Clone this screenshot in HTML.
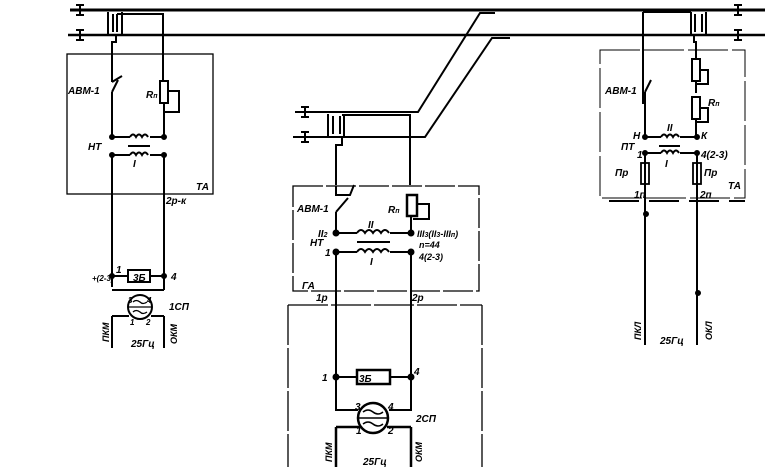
<!DOCTYPE html>
<html><head><meta charset="utf-8"><style>
body{margin:0;background:#fff;width:765px;height:471px;overflow:hidden}
svg text{font-family:"Liberation Sans",sans-serif;font-style:italic;font-weight:bold;fill:#000}
</style></head><body>
<svg width="765" height="471" viewBox="0 0 765 471" xmlns="http://www.w3.org/2000/svg" fill="none" stroke="#000" stroke-width="2">
<!-- main rails -->
<line x1="70" y1="10" x2="765" y2="10" stroke-width="3"/>
<line x1="68" y1="35" x2="765" y2="35" stroke-width="2.5"/>
<path d="M80 4v12M76 5h8M76 15h8M80 29v12M76 30h8M76 40h8" stroke-width="2"/>
<path d="M738 4v12M734 5h8M734 15h8M738 29v12M734 30h8M734 40h8" stroke-width="2"/>
<!-- left transformer -->
<path d="M108 12v22M113 14v18M117 14v18M122 12v22" stroke-width="2"/>
<path d="M117 14h46v67" />
<path d="M116 34v8h-4v40"/>
<!-- left box -->
<rect x="67" y="54" width="146" height="140" stroke-width="1.3"/>
<path d="M112 82l10-6M112 92l6-12M112 92v45M112 155v132M112 290h52M164 155v135"/>
<rect x="160" y="81" width="8" height="22" stroke-width="2"/>
<path d="M164 103v34M168 91h11v21h-15"/>
<path d="M112 137h18M150 137h14M112 155h18M150 155h14" />
<path d="M130 137q3-5 6 0q3-5 6 0q3-5 6 0M130 155q3-5 6 0q3-5 6 0q3-5 6 0"/>
<line x1="128" y1="146" x2="150" y2="146" stroke-width="2"/>
<circle cx="112" cy="137" r="2" fill="#000"/><circle cx="164" cy="137" r="2" fill="#000"/><circle cx="112" cy="155" r="2" fill="#000"/><circle cx="164" cy="155" r="2" fill="#000"/>
<rect x="128" y="270" width="22" height="12" stroke-width="2"/>
<path d="M112 276h16M150 276h14"/>
<circle cx="112" cy="276" r="2" fill="#000"/><circle cx="164" cy="276" r="2" fill="#000"/>
<circle cx="140" cy="307" r="12"/>
<path d="M129 307h22M133 302q3-3 7 0q3 3 7 0M133 312q3-3 7 0q3 3 7 0" stroke-width="1.3"/>
<path d="M112 316h17M151 316h13M112 316v32M164 316v32"/>
<!-- middle diagonals -->
<path d="M295 112h123l62-99h15M293 137h132l67-99h18"/>
<path d="M305 106v12M301 107h8M301 117h8M305 131v12M301 132h8M301 142h8" stroke-width="2"/>
<path d="M328 114v22M333 116v18M340 116v18M344 114v22"/>
<path d="M342 115h68v70M342 137v8h-6v40"/>
<!-- middle box -->
<rect x="293" y="186" width="186" height="105" stroke-width="1.3" stroke-dasharray="30 3"/>
<path d="M336 186v9h14l4-10M336 212l12-14M336 212v21M336 252v125M411 215v18M411 252v125M336 377h21M390 377h21M336 377v33h22M411 377v33h-22"/>
<rect x="407" y="195" width="10" height="21" stroke-width="2.5"/>
<path d="M417 204h12v15h-16"/>
<path d="M336 233h21M390 233h21M336 252h21M390 252h21M357 233q4-6 8 0q4-6 8 0q4-6 8 0q4-6 8 0M357 252q4-6 8 0q4-6 8 0q4-6 8 0q4-6 8 0"/>
<line x1="357" y1="242" x2="390" y2="242" stroke-width="2"/>
<circle cx="336" cy="233" r="2.5" fill="#000"/><circle cx="411" cy="233" r="2.5" fill="#000"/><circle cx="336" cy="252" r="2.5" fill="#000"/><circle cx="411" cy="252" r="2.5" fill="#000"/>
<circle cx="336" cy="377" r="2.5" fill="#000"/><circle cx="411" cy="377" r="2.5" fill="#000"/>
<rect x="357" y="370" width="33" height="14" stroke-width="2.5"/>
<circle cx="373" cy="418" r="15" stroke-width="2.5"/>
<path d="M358 418h30M363 412q5-4 10 0q5 4 10 0M363 424q5-4 10 0q5 4 10 0" stroke-width="1.5"/>
<path d="M336 427v40M411 427v40M336 427h24M411 427h-24" stroke-width="2.5"/>
<path d="M288 305h194M288 305v162M482 305v162" stroke-width="1.3" stroke-dasharray="40 3"/>
<!-- right -->
<path d="M643 12v92M643 12h48"/>
<path d="M691 12v22M695 14v18M702 14v18M706 12v22"/>
<path d="M694 34v8h2v17"/>
<path d="M600 50h145v148H600z" stroke-width="1" stroke-dasharray="40 4"/>
<path d="M645 92l6-12M645 92v45M696 81v12M696 118v19M645 153v140M697 153v140M645 137h16M680 137h17M645 153h16M680 153h17"/>
<rect x="692" y="59" width="8" height="22" stroke-width="2"/><rect x="692" y="97" width="8" height="22" stroke-width="2"/>
<path d="M700 70h8v14h-12M700 108h8v14h-12"/>
<path d="M661 137q3-5 6 0q3-5 6 0q3-5 6 0M661 153q3-5 6 0q3-5 6 0q3-5 6 0"/>
<line x1="659" y1="146" x2="680" y2="146" stroke-width="2"/>
<circle cx="645" cy="137" r="2" fill="#000"/><circle cx="697" cy="137" r="2" fill="#000"/><circle cx="645" cy="153" r="2" fill="#000"/><circle cx="697" cy="153" r="2" fill="#000"/>
<rect x="641" y="163" width="8" height="21" stroke-width="1.8"/><rect x="693" y="163" width="8" height="21" stroke-width="1.8"/>
<path d="M609 201h136" stroke-width="2" stroke-dasharray="30 10"/>
<path d="M645 185v160M697 185v160"/>
<circle cx="646" cy="214" r="2" fill="#000"/><circle cx="698" cy="293" r="2" fill="#000"/>
<g stroke="none" font-size="10">
<text x="68" y="94">АВМ-1</text><text x="146" y="98">R<tspan font-size="7">п</tspan></text>
<text x="88" y="150">НТ</text><text x="133" y="167">I</text><text x="196" y="190">ТА</text>
<text x="166" y="204">2р-к</text><text x="92" y="281" font-size="8">+(2-3)</text><text x="116" y="273">1</text><text x="133" y="281">3Б</text><text x="171" y="280">4</text>
<text x="128" y="303" font-size="8">3</text><text x="147" y="303" font-size="8">4</text><text x="169" y="310">1СП</text><text x="130" y="325" font-size="8">1</text><text x="146" y="325" font-size="8">2</text>
<text x="131" y="347">25Гц</text>
<text transform="translate(109,342) rotate(-90)" font-size="9">ПКМ</text><text transform="translate(177,344) rotate(-90)" font-size="9">ОКМ</text>
<text x="297" y="212">АВМ-1</text><text x="388" y="213">R<tspan font-size="7">п</tspan></text><text x="368" y="228">II</text>
<text x="318" y="237">II<tspan font-size="7">2</tspan></text><text x="310" y="246">НТ</text><text x="325" y="256">1</text><text x="370" y="265">I</text>
<text x="417" y="237" font-size="9">III<tspan font-size="7">3</tspan>(II<tspan font-size="7">3</tspan>-III<tspan font-size="7">п</tspan>)</text>
<text x="419" y="248" font-size="9">n=44</text><text x="419" y="260" font-size="9">4(2-3)</text>
<text x="302" y="289">ГА</text><text x="316" y="301">1р</text><text x="412" y="301">2р</text>
<text x="322" y="381">1</text><text x="414" y="375">4</text><text x="359" y="382">3Б</text>
<text x="355" y="410">3</text><text x="388" y="410">4</text><text x="416" y="422">2СП</text><text x="356" y="434">1</text><text x="388" y="434">2</text>
<text x="363" y="465">25Гц</text>
<text transform="translate(332,462) rotate(-90)" font-size="9">ПКМ</text><text transform="translate(422,462) rotate(-90)" font-size="9">ОКМ</text>
<text x="605" y="94">АВМ-1</text><text x="708" y="106">R<tspan font-size="7">п</tspan></text><text x="667" y="131">II</text>
<text x="633" y="139">Н</text><text x="701" y="139">К</text><text x="621" y="150">ПТ</text><text x="637" y="158">1</text><text x="665" y="167">I</text><text x="701" y="158">4(2-3)</text>
<text x="615" y="176">Пр</text><text x="704" y="176">Пр</text><text x="728" y="189">ТА</text>
<text x="634" y="198">1п</text><text x="700" y="198">2п</text>
<text x="660" y="344">25Гц</text>
<text transform="translate(641,340) rotate(-90)" font-size="9">ПКЛ</text><text transform="translate(712,340) rotate(-90)" font-size="9">ОКЛ</text>
</g>
</svg>
</body></html>
